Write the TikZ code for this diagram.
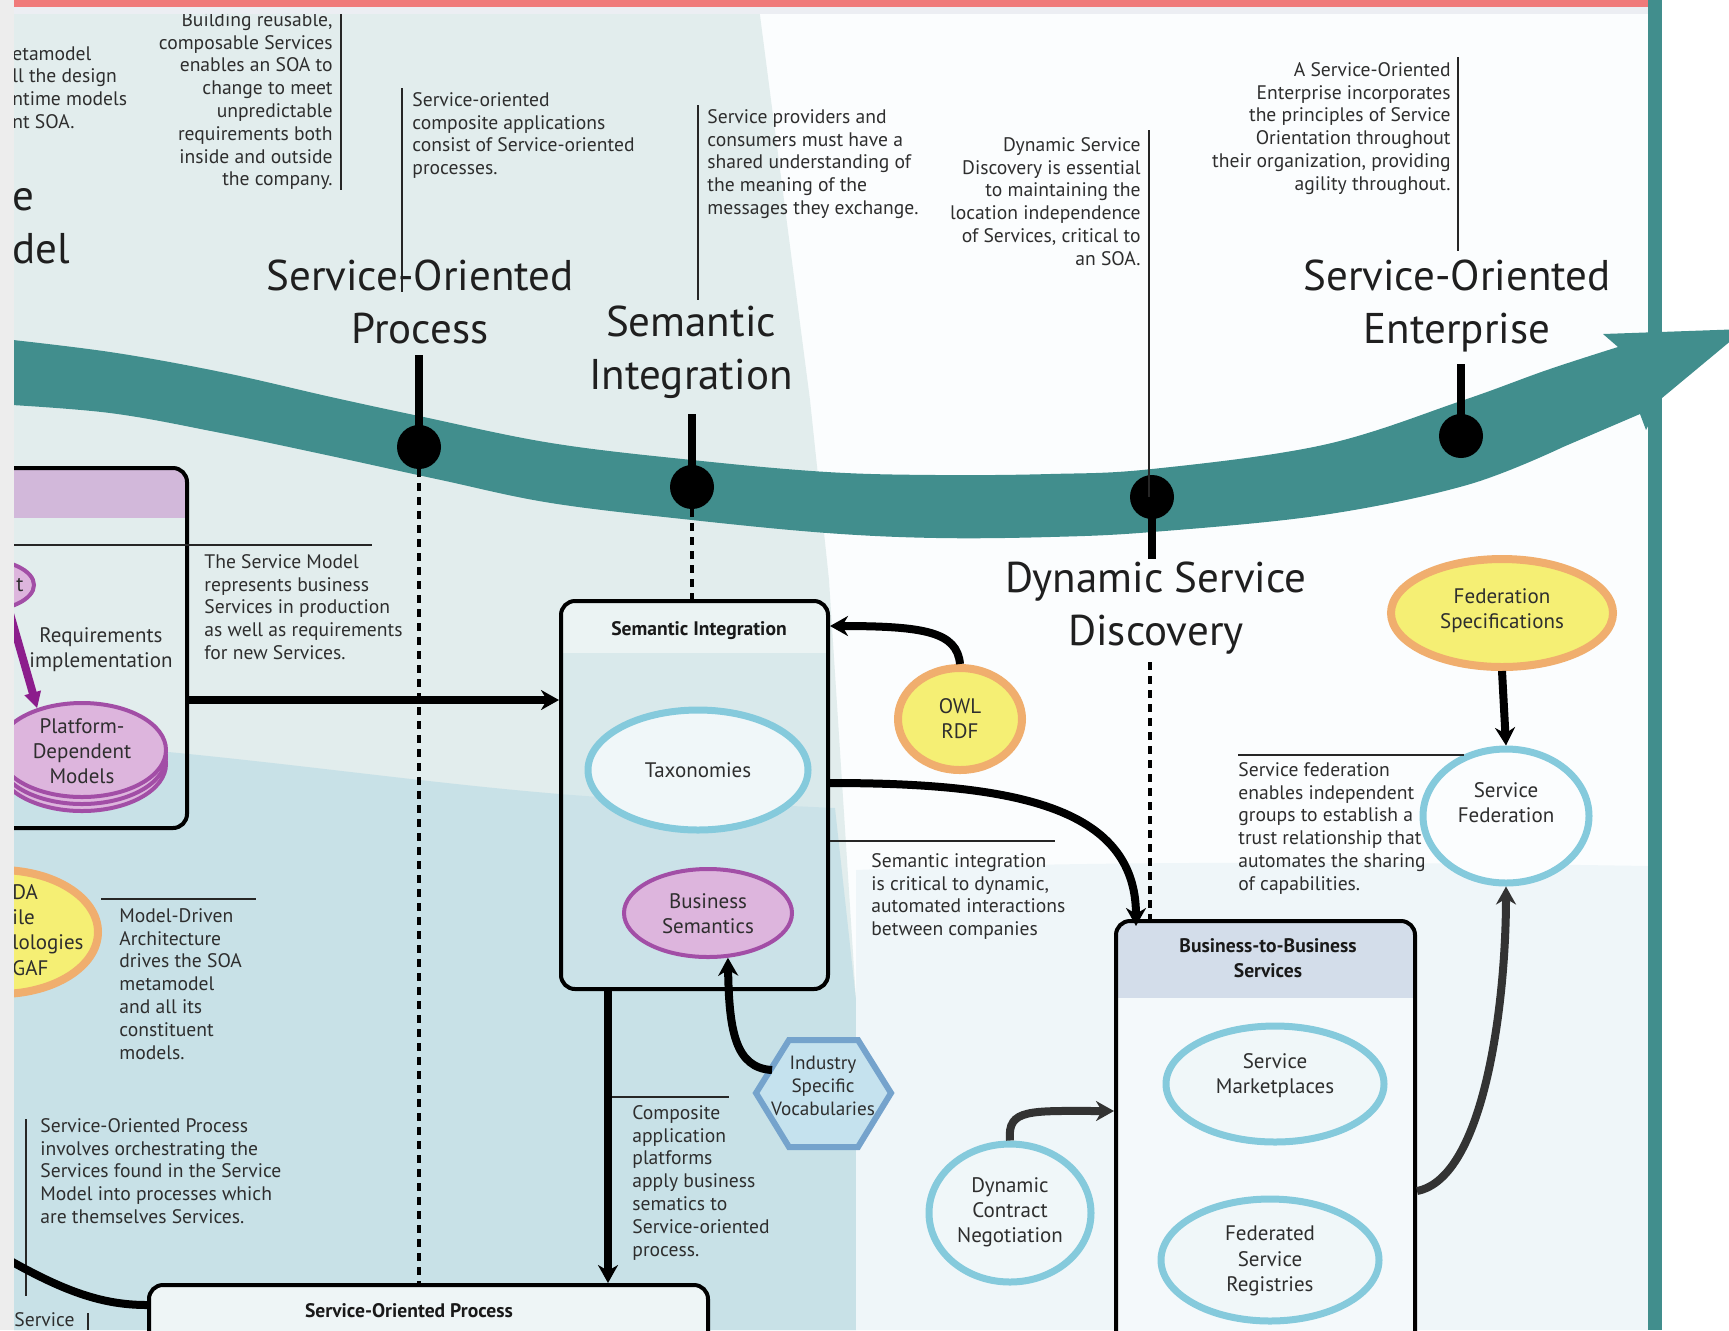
\documentclass[tikz,border=0pt]{standalone}
\usepackage{fontspec}
\setmainfont{PT Sans}
\usetikzlibrary{arrows.meta,shapes.geometric}
\definecolor{teal1}{HTML}{418E8D}
\definecolor{leftbg}{HTML}{E2EDED}
\definecolor{bluebg}{HTML}{C8E1E7}
\definecolor{rightbg}{HTML}{FBFDFE}
\definecolor{lowright}{HTML}{EFF6F9}
\definecolor{redbar}{HTML}{F07A7A}
\definecolor{stripc}{HTML}{ECEEF3}
\definecolor{grayedge}{HTML}{EDEDED}
\definecolor{purplehdr}{HTML}{D2B8DA}
\definecolor{purplef}{HTML}{DDB5DD}
\definecolor{purpleb}{HTML}{A24EA6}
\definecolor{purplearr}{HTML}{8C1D8C}
\definecolor{yellowf}{HTML}{F5EF74}
\definecolor{orangeb}{HTML}{F0AE6E}
\definecolor{ringb}{HTML}{85CADC}
\definecolor{ringf}{HTML}{F0F7F9}
\definecolor{hexf}{HTML}{C5E2EE}
\definecolor{hexb}{HTML}{75A3CC}
\definecolor{b2bhdr}{HTML}{D3DDEA}
\definecolor{b2bbody}{HTML}{F4F9FB}
\definecolor{sopbody}{HTML}{EEF5F6}
\definecolor{sihdr}{HTML}{EBF3F3}
\definecolor{sibody}{HTML}{CFE5EA}
\definecolor{anntext}{HTML}{2E2E2E}
\definecolor{arrgray}{HTML}{333333}
\begin{document}
\begin{tikzpicture}[x=0.5pt,y=-0.5pt,
  ann/.style={font=\fontsize{9.8}{11.4}\selectfont, text=anntext, inner sep=0pt},
  ttl/.style={font=\fontsize{21.5}{26.5}\selectfont, text=black!88, align=center, inner sep=0pt},
  lbl/.style={font=\fontsize{10.5}{12.6}\selectfont, text=black!82, align=center, inner sep=0pt},
  hdr/.style={font=\fontsize{9.8}{12.2}\selectfont\bfseries, text=black!90, align=center, inner sep=0pt},
  leader/.style={line width=0.6pt, draw=black!85},
  stem/.style={line width=4pt, draw=black},
  dotn/.style={circle, fill=black, minimum size=22pt, inner sep=0pt},
  dashln/.style={line width=1.6pt, draw=black, dash pattern=on 4pt off 3pt},
  arr/.style={line width=4pt, draw=black, -{Stealth[length=9pt,width=10pt]}},
  arrg/.style={line width=4pt, draw=arrgray, -{Stealth[length=9pt,width=10pt]}},
  thickln/.style={line width=4pt, draw=black},
  boxb/.style={draw=black, line width=2pt, rounded corners=7pt, inner sep=0pt},
  ellb/.style={ellipse, inner sep=0pt},
  bluering/.style={ellb, draw=ringb, line width=3.5pt, fill=ringf},
  yellowring/.style={ellb, draw=orangeb, line width=4pt, fill=yellowf},
  purplering/.style={ellb, draw=purpleb, line width=2pt, fill=purplef}
]
\useasboundingbox (0,0) rectangle (1729,1330);
\clip (0,0) rectangle (1729,1330);

% ---------- backgrounds ----------
\fill[rightbg] (0,0) rectangle (1729,1330);
\fill[leftbg] (14,0) -- (758,0) -- (810,400) -- (829,580) -- (856,1000) -- (856,1330) -- (14,1330) -- cycle;
\fill[bluebg] (14,740) .. controls (230,752) and (420,785) .. (600,797) -- (835,808) -- (856,1000) -- (856,1330) -- (14,1330) -- cycle;
\fill[lowright] (856,870) .. controls (1100,860) and (1400,862) .. (1648,866) -- (1648,1330) -- (856,1330) -- cycle;
\fill[white] (1662,0) rectangle (1729,1330);
\fill[teal1] (1648,0) rectangle (1662,1330);

% ---------- teal band ----------
\fill[teal1] plot[smooth, tension=0.6] coordinates {(-5,338) (110,352) (221,372) (331,397) (419,416) (551,443) (692,460) (827,472) (937,475) (1050,474) (1152,469) (1323,445) (1461,401) (1547,370) (1618,347)}
  -- (1603,334) -- (1745,329) -- (1662,398) -- (1646,430) -- (1640,414)
  -- plot[smooth, tension=0.6] coordinates {(1563,447) (1467,485) (1323,515) (1152,532) (1050,537) (937,538) (827,533) (692,520) (551,503) (441,480) (331,456) (221,433) (110,413) (-5,404)} -- cycle;

% ---------- box fills ----------
\begin{scope}
  \clip[rounded corners=7pt] (-30,468) rectangle (187,828);
  \fill[purplehdr] (-30,468) rectangle (187,518);
\end{scope}
\begin{scope}
  \clip[rounded corners=7pt] (561,601) rectangle (828,989);
  \fill[sibody, fill opacity=0.45] (561,601) rectangle (828,989);
  \fill[sihdr] (561,601) rectangle (828,653);
\end{scope}
\begin{scope}
  \clip[rounded corners=7pt] (149,1285) rectangle (708,1400);
  \fill[sopbody] (149,1285) rectangle (708,1400);
\end{scope}
\begin{scope}
  \clip[rounded corners=7pt] (1116,921) rectangle (1415,1400);
  \fill[b2bbody] (1116,921) rectangle (1415,1400);
  \fill[b2bhdr] (1116,921) rectangle (1415,998);
\end{scope}

% ---------- ellipses ----------
\node[purplering] (pe) at (-20,585) [minimum width=54pt, minimum height=26pt] {};
\node[purplering] (pdm3) at (82,764) [minimum width=84pt, minimum height=47pt] {};
\node[purplering] (pdm2) at (82,757) [minimum width=84pt, minimum height=47pt] {};
\node[purplering] (pdm) at (82,750) [minimum width=84pt, minimum height=47pt] {};
\node[yellowring] (soa) at (0,932) [minimum width=98pt, minimum height=62pt] {};
\node[bluering] (tax) at (698,770) [minimum width=110pt, minimum height=60pt] {};
\node[purplering] (bs) at (708,913) [minimum width=84pt, minimum height=44pt] {};
\node[yellowring] (owl) at (960,719) [minimum width=62pt, minimum height=51pt] {};
\node[yellowring] (fs) at (1502,613) [minimum width=111pt, minimum height=54pt] {};
\node[bluering, fill=rightbg] (sf) at (1506,816) [minimum width=83pt, minimum height=67pt] {};
\node[bluering] (smk) at (1275,1084) [minimum width=109pt, minimum height=58pt] {};
\node[bluering] (fsr) at (1270,1260) [minimum width=109pt, minimum height=61pt] {};
\node[bluering] (dcn) at (1010,1213) [minimum width=81pt, minimum height=69pt] {};
\draw[hexb, fill=hexf, line width=3pt] (756,1093) -- (789,1040) -- (858,1040) -- (891,1093) -- (858,1147) -- (789,1147) -- cycle;

% ---------- box borders ----------
\node[boxb, minimum width=108.5pt, minimum height=180pt] (smbox) at (78.5,648) {};
\node[boxb, minimum width=133.5pt, minimum height=194pt] (sibox) at (694.5,795) {};
\node[boxb, minimum width=279.5pt, minimum height=57.5pt] (sopbox) at (428.5,1342.5) {};
\node[boxb, minimum width=149.5pt, minimum height=239.5pt] (b2bbox) at (1265.5,1160.5) {};

% ---------- milestones ----------
\node[dotn] (d1) at (419,447) {};
\node[dotn] (d2) at (692,487) {};
\node[dotn] (d3) at (1152,497) {};
\node[dotn] (d4) at (1461,436) {};
\coordinate (s1) at (419,355);
\coordinate (s2) at (692,414);
\coordinate (s3) at (1152,559);
\coordinate (s4) at (1461,364);
\draw[stem] (s1) -- (d1.center);
\draw[stem] (s2) -- (d2.center);
\draw[stem] (d3.center) -- (s3);
\draw[stem] (s4) -- (d4.center);

\draw[dashln] (d1.south) -- (sopbox.north -| d1);
\draw[dashln] (d2.south) -- (sibox.north -| d2);
\coordinate (q3) at (1150,662);
\draw[dashln] (q3) -- (b2bbox.north -| q3);

% ---------- leader lines ----------
\coordinate (l1a) at (341,0); \coordinate (l1b) at (341,190);
\draw[leader] (l1a) -- (l1b);
\coordinate (l2a) at (402,88); \coordinate (l2b) at (402,292);
\draw[leader] (l2a) -- (l2b);
\coordinate (l3a) at (698,105); \coordinate (l3b) at (698,300);
\draw[leader] (l3a) -- (l3b);
\coordinate (l4a) at (1149,130);
\draw[leader] (l4a) -- (l4a |- d3.center);
\coordinate (l5a) at (1458,57); \coordinate (l5b) at (1458,251);
\draw[leader] (l5a) -- (l5b);
\coordinate (h1a) at (14,545); \coordinate (h1b) at (372,545);
\draw[leader] (h1a) -- (h1b);
\coordinate (h2a) at (101,899); \coordinate (h2b) at (256,899);
\draw[leader] (h2a) -- (h2b);
\coordinate (v1a) at (26,1119); \coordinate (v1b) at (26,1296);
\draw[leader] (v1a) -- (v1b);
\coordinate (y841) at (0,841); \coordinate (h3b) at (1055,841);
\draw[leader] (sibox.east |- y841) -- (h3b);
\coordinate (h4a) at (608,1097); \coordinate (h4b) at (729,1097);
\draw[leader] (h4a) -- (h4b);
\coordinate (h5a) at (1238,755); \coordinate (h5b) at (1464,755);
\draw[leader] (h5a) -- (h5b);
\coordinate (v2a) at (88,1313); \coordinate (v2b) at (88,1330);
\draw[leader] (v2a) -- (v2b);

% ---------- connectors ----------
\draw[line width=4pt, draw=purplearr, -{Triangle[length=8pt,width=8pt]}] (pe.-40) -- (pdm.137);
\coordinate (y700) at (0,700);
\draw[arr] (smbox.east |- y700) -- (sibox.west |- y700);
\coordinate (x608) at (608,0);
\draw[arr] (sibox.south -| x608) -- (sopbox.north -| x608);
\coordinate (y626) at (0,626);
\draw[arr] (owl.north) .. controls (957,632) and (925,626) .. (sibox.east |- y626);
\coordinate (y783) at (0,783);
\coordinate (b2bin) at (1136,926);
\draw[arr] (sibox.east |- y783) .. controls (1010,783) and (1136,805) .. (b2bin);
\coordinate (hx) at (772,1070);
\draw[arr] (hx) .. controls (735,1068) and (729,1030) .. (bs.-66);
\draw[arr] (fs.south) -- (sf.north);
\coordinate (y1191) at (0,1191);
\draw[arrg] (b2bbox.east |- y1191) .. controls (1485,1178) and (1506,1000) .. (sf.south);
\coordinate (y1111) at (0,1111);
\draw[arrg] (dcn.north) .. controls (1007,1108) and (1030,1111) .. (b2bbox.west |- y1111);
\coordinate (lc) at (-5,1252);
\coordinate (y1305) at (0,1305);
\draw[thickln] (lc) .. controls (60,1290) and (100,1305) .. (sopbox.west |- y1305);

% ---------- titles ----------
\node[ttl] (t1) at (420,302) {Service-Oriented\\Process};
\node[ttl] (t2) at (691,352) {Semantic\\Integration};
\node[ttl] (t3) at (1156,608) {Dynamic Service\\Discovery};
\node[ttl] (t4) at (1457,306) {Service-Oriented\\Enterprise};
\node[ttl, align=left, anchor=north west] (t0) at (12,188) {e\\del};

% ---------- annotations ----------
\node[ann, align=left, anchor=north west] (a0) at (12,46) {etamodel\\ll the design\\ntime models\\nt SOA.};
\node[ann, align=right, anchor=north east] (a1) at (333,12) {Building reusable,\\composable Services\\enables an SOA to\\change to meet\\unpredictable\\requirements both\\inside and outside\\the company.};
\node[ann, align=left, anchor=north west] (a2) at (412,92) {Service-oriented\\composite applications\\consist of Service-oriented\\processes.};
\node[ann, align=left, anchor=north west] (a3) at (707,109) {Service providers and\\consumers must have a\\shared understanding of\\the meaning of the\\messages they exchange.};
\node[ann, align=right, anchor=north east] (a4) at (1141,137) {Dynamic Service\\Discovery is essential\\to maintaining the\\location independence\\of Services, critical to\\an SOA.};
\node[ann, align=right, anchor=north east] (a5) at (1451,62) {A Service-Oriented\\Enterprise incorporates\\the principles of Service\\Orientation throughout\\their organization, providing\\agility throughout.};
\node[ann, align=left, anchor=north west] (a6) at (204,554) {The Service Model\\represents business\\Services in production\\as well as requirements\\for new Services.};
\node[ann, align=left, anchor=north west] (a7) at (119,908) {Model-Driven\\Architecture\\drives the SOA\\metamodel\\and all its\\constituent\\models.};
\node[ann, align=left, anchor=north west] (a8) at (40,1118) {Service-Oriented Process\\involves orchestrating the\\Services found in the Service\\Model into processes which\\are themselves Services.};
\node[ann, align=left, anchor=north west] (a9) at (632,1105) {Composite\\application\\platforms\\apply business\\sematics to\\Service-oriented\\process.};
\node[ann, align=left, anchor=north west] (a10) at (871,853) {Semantic integration\\is critical to dynamic,\\automated interactions\\between companies};
\node[ann, align=left, anchor=north west] (a11) at (1238,762) {Service federation\\enables independent\\groups to establish a\\trust relationship that\\automates the sharing\\of capabilities.};
\node[ann, align=left, anchor=north west] (a12) at (14,1312) {Service};

% ---------- labels ----------
\node[lbl] (lt) at (20,585) {t};
\node[lbl] (lreq) at (101,650) {Requirements\\implementation};
\node[lbl] (lpdm) at (82,751) {Platform-\\Dependent\\Models};
\node[lbl, align=left, anchor=west] (lsoa) at (12,930) {DA\\ile\\lologies\\GAF};
\node[lbl] (ltax) at (698,770) {Taxonomies};
\node[lbl] (lbs) at (708,914) {Business\\Semantics};
\node[lbl] (lowl) at (960,719) {OWL\\RDF};
\node[lbl, font=\fontsize{9.6}{11.6}\selectfont] (lisv) at (823,1086) {Industry\\Specific\\Vocabularies};
\node[lbl] (lfs) at (1502,611) {Federation\\Specifications};
\node[lbl] (lsf) at (1506,803) {Service\\Federation};
\node[lbl] (lsmk) at (1275,1076) {Service\\Marketplaces};
\node[lbl] (lfsr) at (1270,1261) {Federated\\Service\\Registries};
\node[lbl] (ldcn) at (1010,1212) {Dynamic\\Contract\\Negotiation};
\node[hdr] (hsi) at (699,631) {Semantic Integration};
\node[hdr] (hb2b) at (1268,958) {Business-to-Business\\Services};
\node[hdr] (hsop) at (409,1311) {Service-Oriented Process};

% ---------- frame strips ----------
\fill[grayedge] (0,0) rectangle (14,1330);
\fill[stripc] (14,7) rectangle (1648,14);
\fill[redbar] (14,0) rectangle (1648,7);
\end{tikzpicture}
\end{document}
